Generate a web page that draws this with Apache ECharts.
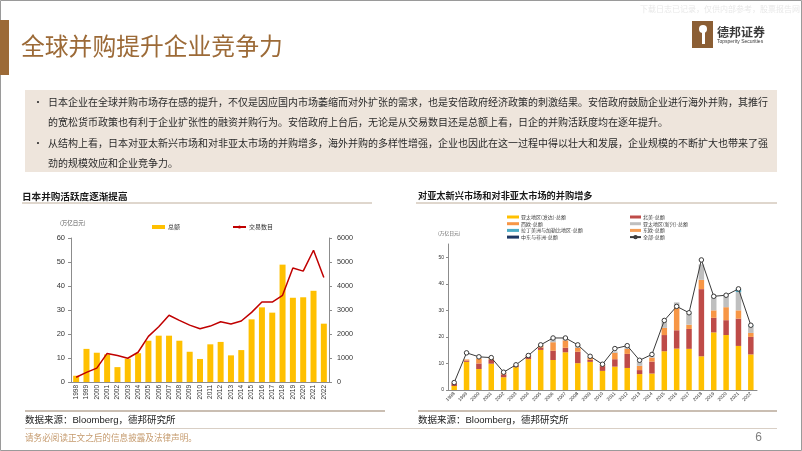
<!DOCTYPE html>
<html><head><meta charset="utf-8">
<script src="https://cdn.jsdelivr.net/npm/echarts/dist/echarts.min.js"></script>
<style>html,body{margin:0;padding:0;background:#fff}#c{width:802px;height:451px}</style>
</head><body><div id="c"></div>
<script>
// ---- Left chart data ----
const years = ['1998','1999','2000','2001','2002','2003','2004','2005','2006','2007','2008','2009','2010','2011','2012','2013','2014','2015','2016','2017','2018','2019','2020','2021','2022'];
const totalValue = [2.6,13.8,12.2,11.5,6.2,9.7,12.0,17.2,19.3,19.3,17.2,12.6,9.6,15.7,16.7,11.1,13.3,26.1,31.1,28.9,48.9,35.1,35.3,38.0,24.3];
const dealCount = [200,400,580,1190,1100,990,1240,1900,2300,2780,2570,2370,2220,2330,2510,2420,2540,2900,3330,3330,3610,4750,4620,5490,4350];
const leftTicks = [0,10,20,30,40,50,60];
const rightTicks = [0,1000,2000,3000,4000,5000,6000];

// ---- Right chart data ----
const apDeveloped = [1.5,10.6,7.9,9.9,4.8,8.6,11.6,15.1,11.3,14.2,10.1,10.6,7.2,8.8,8.3,6.0,6.2,14.6,15.6,15.5,12.7,21.7,20.7,16.6,13.4];
const northAmerica = [0.9,0.5,2.1,1.5,1.1,0.6,1.1,0.9,3.5,1.7,4.3,0.8,1.8,2.8,5.3,1.5,4.5,6.1,6.9,7.5,25.3,5.5,5.6,10.3,6.6];
const westEurope = [0.2,0.4,1.9,0.5,0.6,0.3,0.3,0.7,3.2,2.8,1.5,0.7,0.4,2.4,1.9,1.6,1.5,2.7,8.6,1.6,3.5,2.8,4.9,3.1,1.5];
const apEmerging = [0.1,0.0,0.3,0.2,0.1,0.0,0.1,0.2,1.3,0.8,1.0,0.4,0.2,0.5,0.7,1.5,0.5,2.4,1.9,4.4,5.8,5.2,4.8,6.9,2.5];
const latinAmerica = [0,0,0,0,0,0,0,0,0,0,0,0,0,0,0,0,0,0,0,0,0,0,0,1.2,0.4];
const eastEurope = [0,0,0,0,0,0,0,0,0,0,0,0,0,0,0,0,0,0,0,0,0,0,0,0,0];
const meAfrica = [0,0,0,0,0,0,0,0,0,0,0,0,0,0,0,0,0,0,0,0,0,0,0,0,0];
const allRegions = [2.8,14.0,12.5,12.2,6.7,9.5,13.0,17.0,19.6,19.6,17.0,12.7,9.7,15.6,16.7,11.2,13.4,26.2,31.5,29.1,49.0,35.3,35.7,38.1,24.4];
const rightChartTicks = [0,10,20,30,40,50];

const CJK = "'Noto Sans CJK SC', sans-serif";
const LAT = "'Liberation Sans', 'Noto Sans CJK SC', sans-serif";
const BROWN = '#9C6A37';

const bodyLines = [
  '日本企业在全球并购市场存在感的提升，不仅是因应国内市场萎缩而对外扩张的需求，也是安倍政府经济政策的刺激结果。安倍政府鼓励企业进行海外并购，其推行',
  '的宽松货币政策也有利于企业扩张性的融资并购行为。安倍政府上台后，无论是从交易数目还是总额上看，日企的并购活跃度均在逐年提升。',
  '从结构上看，日本对亚太新兴市场和对非亚太市场的并购增多，海外并购的多样性增强，企业也因此在这一过程中得以壮大和发展，企业规模的不断扩大也带来了强',
  '劲的规模效应和企业竞争力。'
];

function txt(text, x, y, opt) {
  opt = opt || {};
  return {
    type: 'text', silent: true, z: 10,
    style: Object.assign({
      text: text, x: x, y: y,
      fill: opt.fill || '#333',
      fontSize: opt.fontSize || 10,
      fontFamily: opt.fontFamily || CJK,
      fontWeight: opt.fontWeight || 'normal',
      textAlign: opt.align || 'left', align: opt.align || 'left',
      textVerticalAlign: 'middle', verticalAlign: 'middle'
    })
  };
}
function line(x1, y1, x2, y2, color, w) {
  return { type: 'line', silent: true, z: 5, shape: {x1, y1, x2, y2}, style: {stroke: color, lineWidth: w} };
}

const lineYs = [102, 122.5, 143, 163];
const graphics = [
  {type: 'rect', silent: true, z: 0, shape: {x: 0.5, y: 0.5, width: 801, height: 450}, style: {fill: 'none', stroke: '#9a9a9a', lineWidth: 1}},
  {type: 'rect', silent: true, z: 1, shape: {x: 0, y: 20, width: 9, height: 55}, style: {fill: BROWN}},
  txt('全球并购提升企业竞争力', 21, 46, {fontSize: 23.8, fill: BROWN}),
  txt('下载日志已记录，仅供内部参考，股票报告网', 800, 9, {fontSize: 8, fill: '#e8e8e8', align: 'right'}),
  {type: 'rect', silent: true, z: 1, shape: {x: 692, y: 21, width: 21, height: 27}, style: {fill: '#8B5E34'}},
  {type: 'circle', silent: true, z: 2, shape: {cx: 703, cy: 29, r: 4}, style: {fill: '#fff'}},
  {type: 'rect', silent: true, z: 2, shape: {x: 702, y: 32, width: 3, height: 12}, style: {fill: '#fff'}},
  txt('德邦证券', 717, 32, {fontSize: 12, fontWeight: 'bold', fill: '#3a3a3a'}),
  txt('Topsperity Securities', 717, 42, {fontSize: 5, fill: '#3a3a3a', fontFamily: LAT}),
  {type: 'rect', silent: true, z: 1, shape: {x: 25, y: 90, width: 752, height: 82}, style: {fill: '#EEE5DC'}},
  txt('•', 33, 102, {fontSize: 10, fill: '#333'}),
  txt('•', 33, 143, {fontSize: 10, fill: '#333'}),
  txt('日本并购活跃度逐渐提高', 22, 196, {fontSize: 9.6, fontWeight: 'bold', fill: '#1a1a1a'}),
  txt('对亚太新兴市场和对非亚太市场的并购增多', 418, 196, {fontSize: 9.2, fontWeight: 'bold', fill: '#1a1a1a'}),
  line(22, 203, 372, 203, '#BFAE9B', 1),
  line(416, 203, 777, 203, '#BFAE9B', 1),
  txt('(万亿日元)', 60, 223, {fontSize: 5.5, fill: '#555'}),
  txt('(万亿日元)', 438, 233, {fontSize: 4.8, fill: '#555'}),
  line(25, 411, 385, 411, '#B8A898', 1.5),
  line(418, 411, 777, 411, '#B8A898', 1.5),
  txt('数据来源：Bloomberg，德邦研究所', 25, 420, {fontSize: 9.5, fill: '#222', fontFamily: LAT}),
  txt('数据来源：Bloomberg，德邦研究所', 418, 420, {fontSize: 9.5, fill: '#222', fontFamily: LAT}),
  line(25, 428.5, 777, 428.5, '#D9CFC5', 1),
  txt('请务必阅读正文之后的信息披露及法律声明。', 25, 438, {fontSize: 8.6, fill: '#C59A6D'}),
  txt('6', 762, 438, {fontSize: 12, fill: '#7f7f7f', fontFamily: LAT, align: 'right'})
];
bodyLines.forEach((t, i) => graphics.push(txt(t, 48, lineYs[i], {fontSize: 10, fill: '#2b2b2b'})));

const axisGray = '#8c8c8c';
const option = {
  animation: false,
  backgroundColor: '#fff',
  graphic: graphics,
  legend: [
    {
      data: [{name: '总额', icon: 'rect'}, {name: '交易数目'}],
      left: 147, top: 219, itemWidth: 13, itemHeight: 4, itemGap: 52, selectedMode: false,
      textStyle: {fontSize: 6, color: '#333', fontFamily: CJK, padding: [0, 0, 0, -2]}
    },
    {
      data: [{name: '亚太地区(发达)-总额', icon: 'rect'}, {name: '西欧-总额', icon: 'rect'}, {name: '拉丁美洲与加勒比地区-总额', icon: 'rect'}, {name: '中东与非洲-总额', icon: 'rect'}],
      orient: 'vertical', left: 502, top: 209.5, itemWidth: 12, itemHeight: 3, itemGap: 1.7, selectedMode: false,
      textStyle: {fontSize: 5, lineHeight: 5, color: '#404040', fontFamily: CJK, padding: [0, 0, 0, -3]}
    },
    {
      data: [{name: '北美-总额', icon: 'rect'}, {name: '亚太地区(新兴)-总额', icon: 'rect'}, {name: '东欧-总额', icon: 'rect'}, {name: '全部-总额'}],
      orient: 'vertical', left: 624, top: 209.5, itemWidth: 11, itemHeight: 3, itemGap: 1.7, selectedMode: false,
      textStyle: {fontSize: 5, lineHeight: 5, color: '#404040', fontFamily: CJK, padding: [0, 0, 0, -3]}
    }
  ],
  grid: [
    {left: 71, top: 238, width: 258, height: 144, containLabel: false},
    {left: 448, top: 244, width: 309, height: 146, containLabel: false}
  ],
  xAxis: [
    {
      type: 'category', gridIndex: 0, data: years, boundaryGap: true,
      axisLine: {show: true, lineStyle: {color: axisGray, width: 1}},
      axisTick: {show: false},
      axisLabel: {interval: 0, rotate: 90, fontSize: 6.5, color: '#333', fontFamily: LAT, margin: 3}
    },
    {
      type: 'category', gridIndex: 1, data: years, boundaryGap: true,
      axisLine: {show: true, lineStyle: {color: axisGray, width: 1}},
      axisTick: {show: false},
      axisLabel: {interval: 0, rotate: 45, fontSize: 4.8, color: '#333', fontFamily: LAT, margin: 3}
    }
  ],
  yAxis: [
    {
      type: 'value', gridIndex: 0, min: leftTicks[0], max: leftTicks[leftTicks.length - 1], interval: 10, position: 'left',
      axisLine: {show: true, lineStyle: {color: axisGray}},
      axisTick: {show: true, length: 3, lineStyle: {color: axisGray}},
      splitLine: {show: false},
      axisLabel: {fontSize: 7.5, color: '#333', fontFamily: LAT, margin: 6, formatter: v => String(v)}
    },
    {
      type: 'value', gridIndex: 0, min: rightTicks[0], max: rightTicks[rightTicks.length - 1], interval: 1000, position: 'right',
      axisLine: {show: true, lineStyle: {color: axisGray}},
      axisTick: {show: true, length: 3, lineStyle: {color: axisGray}},
      splitLine: {show: false},
      axisLabel: {fontSize: 7.2, color: '#333', fontFamily: LAT, margin: 8, formatter: v => String(v)}
    },
    {
      type: 'value', gridIndex: 1, min: rightChartTicks[0], max: 55, interval: 10, position: 'left',
      axisLine: {show: true, lineStyle: {color: axisGray}},
      axisTick: {show: true, length: 2, lineStyle: {color: axisGray}},
      splitLine: {show: false},
      axisLabel: {fontSize: 5, color: '#333', fontFamily: LAT, margin: 4, showMaxLabel: false,
        formatter: v => (rightChartTicks.indexOf(v) >= 0 ? String(v) : '')}
    }
  ],
  series: [
    {name: '总额', type: 'bar', xAxisIndex: 0, yAxisIndex: 0, data: totalValue, barWidth: 6, itemStyle: {color: '#FFC000'}},
    {name: '交易数目', type: 'line', xAxisIndex: 0, yAxisIndex: 1, data: dealCount, symbol: 'none', lineStyle: {color: '#C00000', width: 1.5}, itemStyle: {color: '#C00000'}},
    {name: '亚太地区(发达)-总额', type: 'bar', stack: 'r', xAxisIndex: 1, yAxisIndex: 2, data: apDeveloped, barWidth: 5.5, itemStyle: {color: '#FFC000'}},
    {name: '北美-总额', type: 'bar', stack: 'r', xAxisIndex: 1, yAxisIndex: 2, data: northAmerica, barWidth: 5.5, itemStyle: {color: '#BE4B48'}},
    {name: '西欧-总额', type: 'bar', stack: 'r', xAxisIndex: 1, yAxisIndex: 2, data: westEurope, barWidth: 5.5, itemStyle: {color: '#F79646'}},
    {name: '亚太地区(新兴)-总额', type: 'bar', stack: 'r', xAxisIndex: 1, yAxisIndex: 2, data: apEmerging, barWidth: 5.5, itemStyle: {color: '#BFBFBF'}},
    {name: '拉丁美洲与加勒比地区-总额', type: 'bar', stack: 'r', xAxisIndex: 1, yAxisIndex: 2, data: latinAmerica, barWidth: 5.5, itemStyle: {color: '#4BACC6'}},
    {name: '东欧-总额', type: 'bar', stack: 'r', xAxisIndex: 1, yAxisIndex: 2, data: eastEurope, barWidth: 5.5, itemStyle: {color: '#F59D56'}},
    {name: '中东与非洲-总额', type: 'bar', stack: 'r', xAxisIndex: 1, yAxisIndex: 2, data: meAfrica, barWidth: 5.5, itemStyle: {color: '#1F3864'}},
    {name: '全部-总额', type: 'line', xAxisIndex: 1, yAxisIndex: 2, data: allRegions, symbol: 'circle', symbolSize: 4.5, z: 5,
      lineStyle: {color: '#3a3a3a', width: 1}, itemStyle: {color: '#fff', borderColor: '#3a3a3a', borderWidth: 1}}
  ]
};
const chart = echarts.init(document.getElementById('c'), null, {renderer: 'canvas'});
chart.setOption(option);
</script>
</body></html>
